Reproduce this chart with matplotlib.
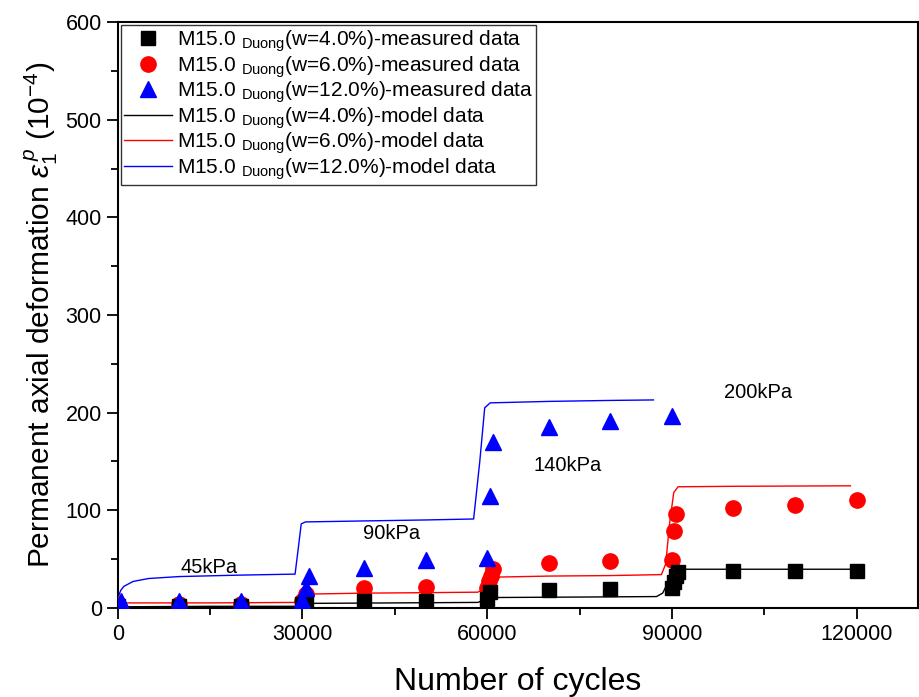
import matplotlib
matplotlib.use("Agg")
import matplotlib.pyplot as plt
from matplotlib.ticker import MultipleLocator

plt.rcParams["font.family"] = ["Liberation Sans", "DejaVu Sans"]
plt.rcParams["mathtext.fontset"] = "custom"
plt.rcParams["mathtext.rm"] = "Liberation Sans"
plt.rcParams["mathtext.it"] = "Liberation Sans:italic"

# -----------------------------
# DATA
# -----------------------------
# measured data, w = 4.0 %
N_w4 = [0, 10000, 20000, 30000, 30500, 40000, 50000, 60000, 60500, 70000, 80000,
        90000, 90300, 90600, 91000, 100000, 110000, 120000]
E_w4 = [2, 2, 2, 4, 7, 7, 7, 9, 16, 18, 19, 20, 26, 33, 37, 37.5, 37.5, 37.5]

# measured data, w = 6.0 %
N_w6 = [0, 10000, 20000, 30000, 30500, 40000, 50000, 60000, 60300, 60600, 61000,
        70000, 80000, 90000, 90300, 90700, 100000, 110000, 120000]
E_w6 = [4, 4, 4, 7, 14, 20, 21.5, 20, 27, 33, 40, 46, 48, 49, 79, 96, 102, 105, 110]

# measured data, w = 12.0 %
N_w12 = [500, 10000, 20000, 30000, 30500, 31000, 40000, 50000, 60000, 60500, 61000,
         70000, 80000, 90000]
E_w12 = [7, 7, 7, 8, 20, 33, 41, 49, 51, 115, 170, 185, 191, 197]

# model data
N_m4 = [0, 15000, 29000, 29800, 30500, 45000, 58500, 59500, 60500, 75000, 87500,
        88500, 89300, 90000, 91000, 105000, 119000]
E_m4 = [1, 1.5, 1.5, 3.5, 4.5, 5, 5.5, 8, 10.5, 11, 11.5, 15, 25, 36, 39.5, 39.5, 39.5]

N_m6 = [0, 15000, 29000, 29800, 30500, 40000, 50000, 58500, 59500, 60500, 62000,
        70000, 80000, 88300, 89000, 89600, 90300, 91000, 100000, 119000]
E_m6 = [5, 5, 5.5, 10, 14, 15, 15.5, 16, 20, 28, 31.5, 32.5, 33, 34, 45, 85, 118, 124,
        124.5, 125]

N_m12 = [0, 500, 1000, 2500, 5000, 10000, 20000, 28800, 29300, 29800, 30500, 40000,
         50000, 57800, 58800, 59600, 60500, 70000, 80000, 87000]
E_m12 = [10, 18, 22, 27, 30, 32, 33.5, 34.5, 60, 86, 88, 89, 90, 91, 150, 205, 210,
         211.5, 212.5, 213]

STRESS_LABELS = ["45kPa", "90kPa", "140kPa", "200kPa"]
STRESS_N = [14800, 44500, 73000, 104000]
STRESS_E = [41, 76, 146, 221]

TAG = r"M15.0 $_{\mathregular{Duong}}$"


def main():
    fig = plt.figure(figsize=(9.2, 6.97), dpi=100)
    ax = fig.add_axes([0.128, 0.128, 0.87, 0.84])

    ax.plot(N_w4, E_w4, "s", color="black", ms=10, zorder=4,
            label=TAG + "(w=4.0%)-measured data")
    ax.plot(N_w6, E_w6, "o", color="#ff0000", ms=11, zorder=3,
            label=TAG + "(w=6.0%)-measured data")
    ax.plot(N_w12, E_w12, "^", color="#0000ff", ms=12, zorder=5,
            label=TAG + "(w=12.0%)-measured data")
    ax.plot(N_m4, E_m4, "-", color="black", lw=1.0, zorder=2,
            label=TAG + "(w=4.0%)-model data")
    ax.plot(N_m6, E_m6, "-", color="#ff0000", lw=1.0, zorder=2,
            label=TAG + "(w=6.0%)-model data")
    ax.plot(N_m12, E_m12, "-", color="#0000ff", lw=1.0, zorder=2,
            label=TAG + "(w=12.0%)-model data")

    for s, n, e in zip(STRESS_LABELS, STRESS_N, STRESS_E):
        ax.text(n, e, s, fontsize=14.5, ha="center", va="center")

    ax.set_xlim(0, 130000)
    ax.set_ylim(0, 600)
    ax.xaxis.set_major_locator(MultipleLocator(30000))
    ax.xaxis.set_minor_locator(MultipleLocator(15000))
    ax.yaxis.set_major_locator(MultipleLocator(100))
    ax.yaxis.set_minor_locator(MultipleLocator(50))
    ax.tick_params(which="major", direction="out", length=8, width=1.3,
                   labelsize=15.5, top=False, right=False)
    ax.tick_params(which="minor", direction="out", length=5, width=1.3,
                   top=False, right=False)
    for sp in ax.spines.values():
        sp.set_linewidth(1.5)

    ax.set_xlabel("Number of cycles", fontsize=23, labelpad=16)
    ax.set_ylabel(r"Permanent axial deformation $\varepsilon_1^{\,p}$ (10$^{-4}$)",
                  fontsize=21.5, labelpad=4)

    leg = ax.legend(loc="upper left", fontsize=15, frameon=True, fancybox=False,
                    edgecolor="black", borderaxespad=0.15, handlelength=2.3,
                    handletextpad=0.25, labelspacing=0.0, borderpad=0.15)
    leg.get_frame().set_linewidth(1.0)

    fig.savefig("out.png", dpi=100)


if __name__ == "__main__":
    main()
